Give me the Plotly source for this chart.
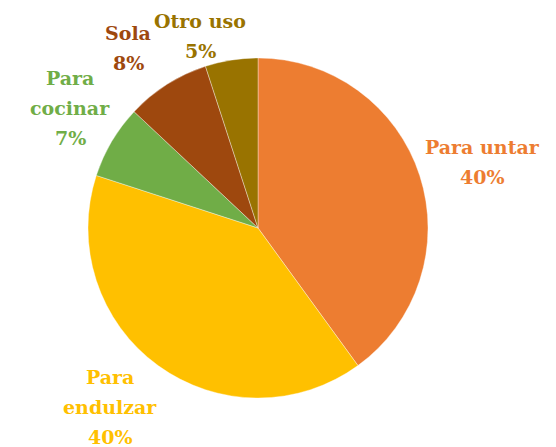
import plotly.graph_objects as go

labels = ["Para untar", "Para endulzar", "Para cocinar", "Sola", "Otro uso"]
label_lines = [["Para untar"], ["Para", "endulzar"], ["Para", "cocinar"], ["Sola"], ["Otro uso"]]
values = [40, 40, 7, 8, 5]
colors = ["#ED7D31", "#FFC000", "#70AD47", "#9E480E", "#997300"]

W, H = 556, 447
OFF = 8  # page body margin
LINE = 30  # line spacing in px
# label centres (px on screen)
label_pos = [(482, 162), (110, 407), (70, 108), (128, 48), (200, 36)]


def fx(px):
    return (px - OFF) / W


def fy(py):
    return 1 - (py - OFF) / H


fig = go.Figure()
fig.add_trace(
    go.Pie(
        labels=labels,
        values=values,
        sort=False,
        direction="clockwise",
        rotation=0,
        textinfo="none",
        hoverinfo="label+percent",
        marker={"colors": colors, "line": {"color": "rgba(255,255,255,0.6)", "width": 0.6}},
        domain={"x": [fx(88), fx(428)], "y": [fy(398), fy(58)]},
        showlegend=False,
    )
)

annotations = []
for lines, val, col, (px, py) in zip(label_lines, values, colors, label_pos):
    rows = lines + [f"{val}%"]
    top = py - LINE * (len(rows) - 1) / 2
    for i, row in enumerate(rows):
        annotations.append(
            {
                "text": f"<b>{row}</b>",
                "x": fx(px),
                "y": fy(top + i * LINE),
                "xref": "paper",
                "yref": "paper",
                "xanchor": "center",
                "yanchor": "middle",
                "showarrow": False,
                "font": {"family": "DejaVu Serif, Liberation Serif, Times New Roman, serif", "size": 19, "color": col},
            }
        )

fig.update_layout(
    width=W,
    height=H,
    margin={"l": 0, "r": 0, "t": 0, "b": 0},
    paper_bgcolor="white",
    plot_bgcolor="white",
    annotations=annotations,
)

fig.write_html("out.html")
